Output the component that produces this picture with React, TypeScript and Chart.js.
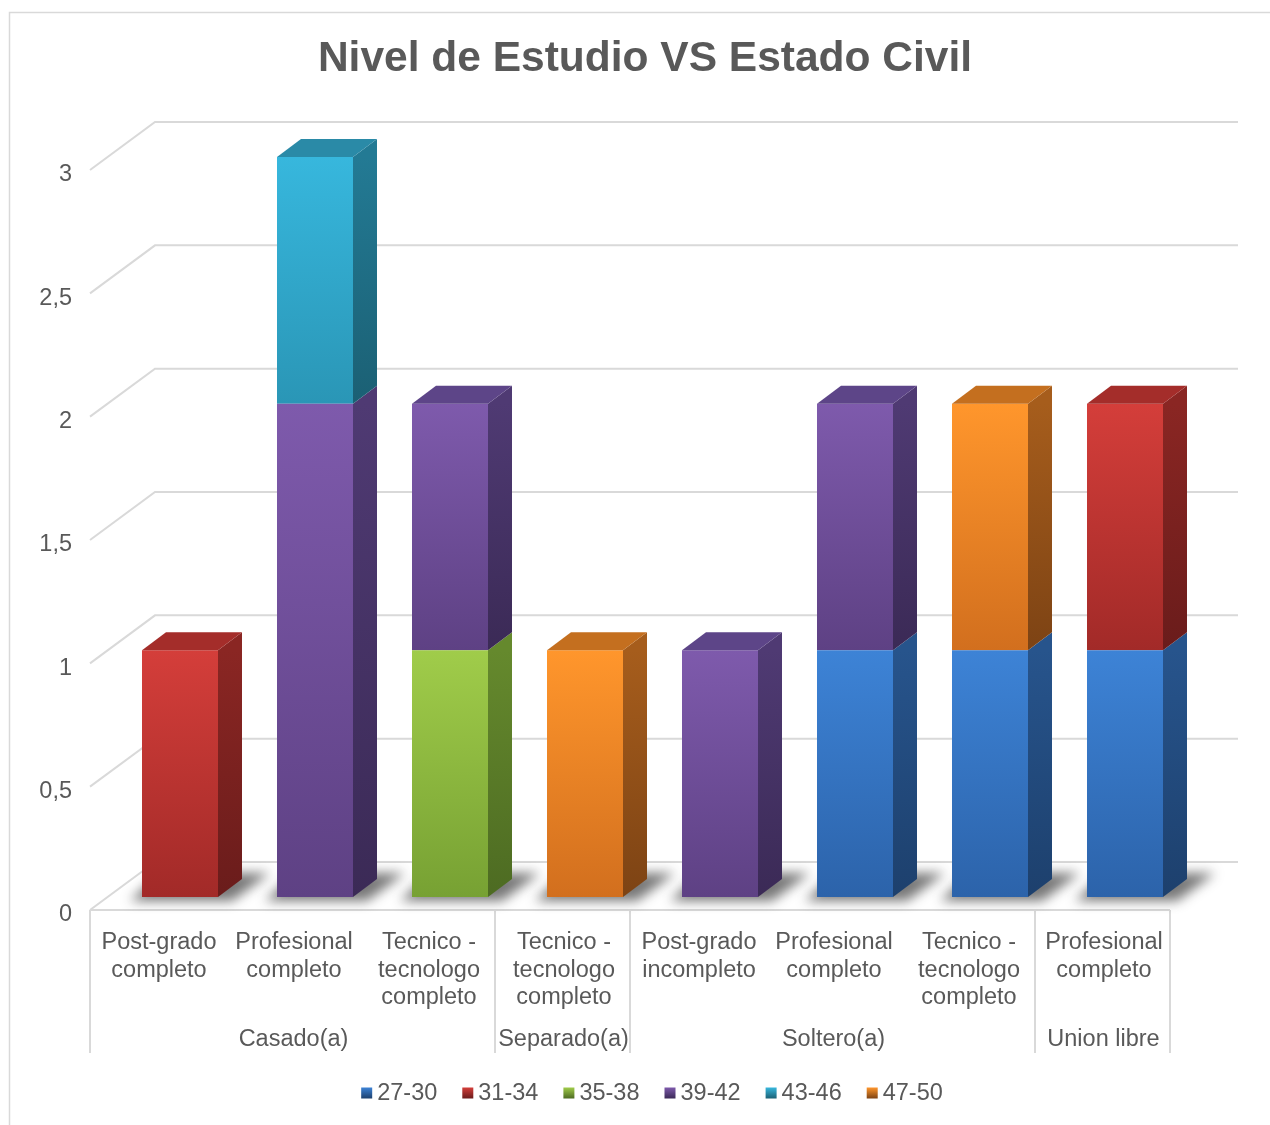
import React, { useEffect, useRef } from "react";
import { Chart, registerables } from "chart.js";

Chart.register(...registerables);

// ---------- DATA ----------
const titleText = "Nivel de Estudio VS Estado Civil";
const maritalGroups = ["Casado(a)", "Separado(a)", "Soltero(a)", "Union libre"];
const groupSpans = [3, 1, 3, 1];
const studyLevels: string[][] = [
  ["Post-grado", "completo"],
  ["Profesional", "completo"],
  ["Tecnico -", "tecnologo", "completo"],
  ["Tecnico -", "tecnologo", "completo"],
  ["Post-grado", "incompleto"],
  ["Profesional", "completo"],
  ["Tecnico -", "tecnologo", "completo"],
  ["Profesional", "completo"],
];
const seriesNames = ["27-30", "31-34", "35-38", "39-42", "43-46", "47-50"];
const s27_30 = [null, null, null, null, null, 1, 1, 1];
const s31_34 = [1, null, null, null, null, null, null, 1];
const s35_38 = [null, null, 1, null, null, null, null, null];
const s39_42 = [null, 2, 1, null, 1, 1, null, null];
const s43_46 = [null, 1, null, null, null, null, null, null];
const s47_50 = [null, null, null, 1, null, null, 1, null];
const yTickValues = [0, 0.5, 1, 1.5, 2, 2.5, 3];

const allSeries: (number | null)[][] = [s27_30, s31_34, s35_38, s39_42, s43_46, s47_50];

// ---------- STYLE ----------
const palette = [
  { front: ["#3d83d6", "#2c63aa"], side: ["#27548c", "#1d406d"], top: "#2f67ae" },
  { front: ["#d43e3a", "#a22a28"], side: ["#8a2623", "#6a1c1b"], top: "#a42d2a" },
  { front: ["#a0cc4a", "#77a133"], side: ["#65892d", "#4d6b22"], top: "#7ba036" },
  { front: ["#7e5aac", "#5e4184"], side: ["#4f3a73", "#3b2a56"], top: "#5d4588" },
  { front: ["#37b7dd", "#2a96b6"], side: ["#237a94", "#1b6074"], top: "#2a8aa7" },
  { front: ["#ff962c", "#d26f1e"], side: ["#a65d1c", "#7d4314"], top: "#c46f1f" },
];
const FONT = '"Liberation Sans", Arial, sans-serif';
const TEXT = "#595959";
const GRID = "#d9d9d9";
const DEPTH_X = 24, DEPTH_Y = -18;
const FRONT_DX = -22.5, FRONT_DY = 13;
const BACK_DX = 42.5, BACK_DY = -35;

function stackStart(di: number, i: number) {
  let s = 0;
  for (let k = 0; k < di; k++) s += allSeries[k][i] ?? 0;
  return s;
}

function frontColor(ctx: any) {
  const di = ctx.datasetIndex;
  const p = palette[di];
  if (ctx.type !== "data") return p.front[0];
  const chart = ctx.chart;
  const ys = chart.scales && chart.scales.y;
  const i = ctx.dataIndex;
  const v = allSeries[di][i];
  if (!ys || v == null) return p.front[0];
  const start = stackStart(di, i);
  const top = ys.getPixelForValue(start + v);
  const bot = ys.getPixelForValue(start);
  if (!isFinite(top) || !isFinite(bot) || top === bot) return p.front[0];
  const g = chart.ctx.createLinearGradient(0, top, 0, bot);
  g.addColorStop(0, p.front[0]);
  g.addColorStop(1, p.front[1]);
  return g;
}

const threeD = {
  id: "threeD",
  beforeDraw(chart: any) {
    const { ctx } = chart;
    ctx.save();
    ctx.fillStyle = "#ffffff";
    ctx.fillRect(0, 0, chart.width, chart.height);
    ctx.strokeStyle = GRID;
    ctx.lineWidth = 1.5;
    ctx.strokeRect(9.5, 12.5, 1400, 1400);
    ctx.restore();
  },
  beforeDatasetsDraw(chart: any) {
    const { ctx, chartArea } = chart;
    const xs = chart.scales.x;
    const ys = chart.scales.y;
    const L = chartArea.left, R = chartArea.right;
    ctx.save();
    // back-wall gridlines with slanted side wall
    ctx.strokeStyle = GRID;
    ctx.lineWidth = 2;
    yTickValues.forEach((v) => {
      const y = ys.getPixelForValue(v);
      ctx.beginPath();
      ctx.moveTo(L + FRONT_DX, y + FRONT_DY);
      ctx.lineTo(L + BACK_DX, y + BACK_DY);
      ctx.lineTo(R + BACK_DX + 3, y + BACK_DY);
      ctx.stroke();
    });
    const y0 = ys.getPixelForValue(0);
    const half = (xs.getPixelForValue(1) - xs.getPixelForValue(0)) / 2;
    // category box
    ctx.beginPath();
    ctx.moveTo(L + FRONT_DX, y0 + FRONT_DY);
    ctx.lineTo(R + FRONT_DX, y0 + FRONT_DY);
    ctx.stroke();
    let idx = 0;
    const bounds = [0];
    groupSpans.forEach((s) => { idx += s; bounds.push(idx); });
    bounds.forEach((b) => {
      const x = xs.getPixelForValue(0) - half + b * 2 * half + FRONT_DX;
      ctx.beginPath();
      ctx.moveTo(x, y0 + FRONT_DY);
      ctx.lineTo(x, y0 + 156);
      ctx.stroke();
    });
    // labels
    ctx.fillStyle = TEXT;
    ctx.font = `23.5px ${FONT}`;
    ctx.textAlign = "center";
    ctx.textBaseline = "middle";
    studyLevels.forEach((lines, i) => {
      const cx = xs.getPixelForValue(i) + FRONT_DX + 1.5;
      lines.forEach((t, k) => ctx.fillText(t, cx, y0 + 46 + k * 27.5));
    });
    let gi = 0;
    maritalGroups.forEach((g, k) => {
      const a = xs.getPixelForValue(gi) - half;
      const b = xs.getPixelForValue(gi + groupSpans[k] - 1) + half;
      ctx.fillText(g, (a + b) / 2 + FRONT_DX + 1, y0 + 143);
      gi += groupSpans[k];
    });
    // floor shadows
    ctx.filter = "blur(6px)";
    ctx.fillStyle = "rgba(30,30,30,0.6)";
    const meta0 = chart.getDatasetMeta(0);
    meta0.data.forEach((el: any) => {
      const cx = el.x;
      const w = el.width;
      const xl = cx - w / 2, xr = cx + w / 2;
      ctx.beginPath();
      ctx.moveTo(xl - 12, y0 + 4);
      ctx.lineTo(xr + 14, y0 + 4);
      ctx.lineTo(xr + DEPTH_X + 28, y0 + DEPTH_Y - 6);
      ctx.lineTo(xl + DEPTH_X - 6, y0 + DEPTH_Y - 6);
      ctx.closePath();
      ctx.fill();
    });
    ctx.filter = "none";
    ctx.restore();
  },
  afterDatasetsDraw(chart: any) {
    const { ctx } = chart;
    const n = studyLevels.length;
    ctx.save();
    for (let i = 0; i < n; i++) {
      let topDs = -1;
      allSeries.forEach((s, di) => { if (s[i] != null) topDs = di; });
      allSeries.forEach((s, di) => {
        if (s[i] == null) return;
        const el: any = chart.getDatasetMeta(di).data[i];
        const p = palette[di];
        const xl = el.x - el.width / 2, xr = el.x + el.width / 2;
        const yt = el.y, yb = el.base;
        const g = ctx.createLinearGradient(0, yt, 0, yb);
        g.addColorStop(0, p.side[0]);
        g.addColorStop(1, p.side[1]);
        ctx.fillStyle = g;
        ctx.beginPath();
        ctx.moveTo(xr, yt);
        ctx.lineTo(xr + DEPTH_X, yt + DEPTH_Y);
        ctx.lineTo(xr + DEPTH_X, yb + DEPTH_Y);
        ctx.lineTo(xr, yb);
        ctx.closePath();
        ctx.fill();
        if (di === topDs) {
          ctx.fillStyle = p.top;
          ctx.beginPath();
          ctx.moveTo(xl, yt);
          ctx.lineTo(xl + DEPTH_X, yt + DEPTH_Y);
          ctx.lineTo(xr + DEPTH_X, yt + DEPTH_Y);
          ctx.lineTo(xr, yt);
          ctx.closePath();
          ctx.fill();
        }
      });
    }
    ctx.restore();
  },
  afterDraw(chart: any) {
    const { ctx } = chart;
    ctx.save();
    ctx.fillStyle = TEXT;
    ctx.font = `bold 42.5px ${FONT}`;
    ctx.textAlign = "center";
    ctx.textBaseline = "middle";
    ctx.fillText(titleText, 645, 59);
    // legend
    ctx.font = `23.5px ${FONT}`;
    ctx.textAlign = "left";
    const box = 11, gap = 5, spacing = 25;
    const widths = seriesNames.map((t) => box + gap + ctx.measureText(t).width);
    const total = widths.reduce((a, b) => a + b, 0) + spacing * (widths.length - 1);
    let x = 652 - total / 2;
    const ly = 1093;
    seriesNames.forEach((t, k) => {
      const p = palette[k];
      const g = ctx.createLinearGradient(0, ly - box / 2, 0, ly + box / 2);
      g.addColorStop(0, p.front[0]);
      g.addColorStop(1, p.side[1]);
      ctx.fillStyle = g;
      ctx.fillRect(x, ly - box / 2, box, box);
      ctx.fillStyle = TEXT;
      ctx.fillText(t, x + box + gap, ly + 1);
      x += widths[k] + spacing;
    });
    ctx.restore();
  },
};

export default function App() {
  const canvasRef = useRef<HTMLCanvasElement | null>(null);
  useEffect(() => {
    const canvas = canvasRef.current;
    if (!canvas) return;
    const chart = new Chart(canvas, {
      type: "bar",
      data: {
        labels: studyLevels.map((l) => l.join(" ")),
        datasets: seriesNames.map((name, k) => ({
          label: name,
          data: allSeries[k],
          backgroundColor: frontColor,
          borderWidth: 0,
          categoryPercentage: 1,
          barPercentage: 0.563,
        })),
      },
      options: {
        animation: false,
        responsive: false,
        devicePixelRatio: 1,
        events: [],
        layout: { padding: { left: 0, right: 77.5, top: 157, bottom: 228 } },
        plugins: {
          legend: { display: false },
          title: { display: false },
          tooltip: { enabled: false },
        },
        scales: {
          x: { stacked: true, display: false },
          y: {
            stacked: true,
            min: 0,
            max: 3,
            afterFit: (s: any) => { s.width = 112.5; },
            afterBuildTicks: (s: any) => { s.ticks = yTickValues.map((v) => ({ value: v })); },
            grid: { display: false },
            border: { display: false },
            ticks: {
              padding: 32.5,
              labelOffset: 18,
              color: TEXT,
              font: { family: FONT, size: 23.5 },
              callback: (v: any) => String(v).replace(".", ","),
            },
          },
        },
      },
      plugins: [threeD],
    } as any);
    return () => chart.destroy();
  }, []);
  return (
    <div style={{ position: "absolute", left: 0, top: 0, width: 1270, height: 1125 }}>
      <canvas ref={canvasRef} width={1270} height={1125} style={{ width: 1270, height: 1125, display: "block" }} />
    </div>
  );
}
